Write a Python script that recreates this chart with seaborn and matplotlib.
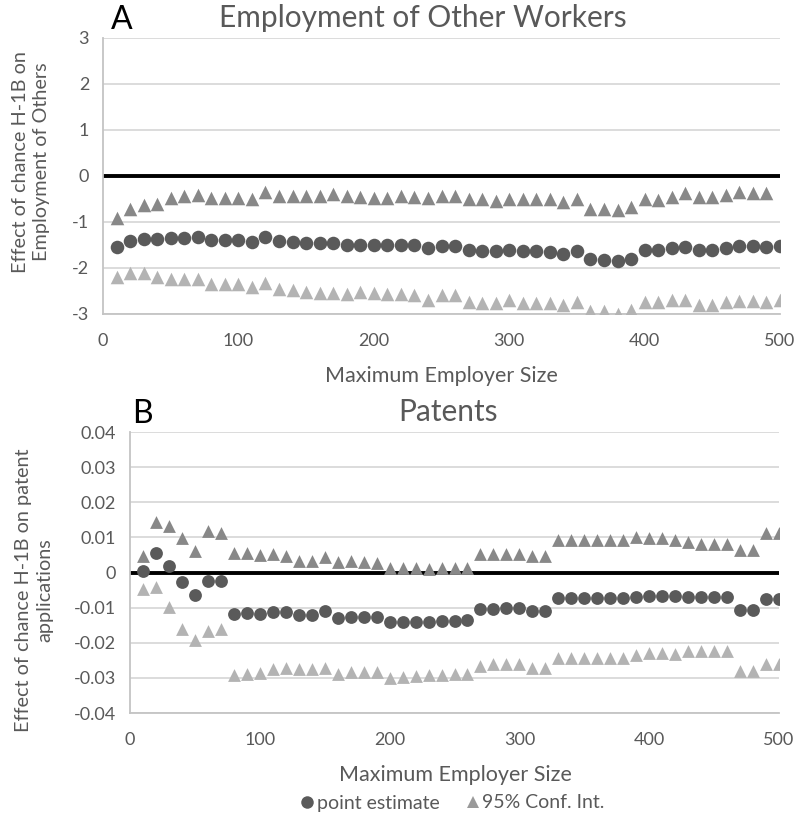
import numpy as np
import pandas as pd
import matplotlib
matplotlib.use("Agg")
import matplotlib.pyplot as plt
from matplotlib.lines import Line2D
import seaborn as sns

# Maximum employer size thresholds
sizes = list(range(10, 510, 10))

# Panel A: effect of a chance H-1B on employment of other workers
emp_estimate = [-1.55, -1.42, -1.38, -1.38, -1.35, -1.34, -1.33, -1.39, -1.39, -1.40,
                -1.44, -1.33, -1.42, -1.44, -1.45, -1.46, -1.46, -1.49, -1.49, -1.51,
                -1.51, -1.50, -1.51, -1.56, -1.53, -1.52, -1.60, -1.62, -1.64, -1.60,
                -1.62, -1.64, -1.65, -1.69, -1.62, -1.80, -1.82, -1.85, -1.80, -1.61,
                -1.61, -1.56, -1.54, -1.61, -1.61, -1.56, -1.53, -1.52, -1.54, -1.53]
emp_upper = [-0.91, -0.71, -0.64, -0.61, -0.48, -0.43, -0.41, -0.48, -0.47, -0.47,
             -0.49, -0.34, -0.44, -0.44, -0.44, -0.43, -0.40, -0.44, -0.46, -0.47,
             -0.47, -0.44, -0.45, -0.47, -0.44, -0.44, -0.50, -0.51, -0.55, -0.50,
             -0.50, -0.50, -0.50, -0.56, -0.51, -0.72, -0.72, -0.74, -0.68, -0.51,
             -0.52, -0.45, -0.38, -0.45, -0.45, -0.41, -0.34, -0.36, -0.38, np.nan]
emp_lower = [-2.19, -2.11, -2.11, -2.19, -2.23, -2.23, -2.23, -2.34, -2.34, -2.35,
             -2.41, -2.32, -2.46, -2.48, -2.52, -2.54, -2.54, -2.57, -2.52, -2.55,
             -2.57, -2.57, -2.59, -2.69, -2.59, -2.59, -2.74, -2.76, -2.76, -2.70,
             -2.76, -2.77, -2.77, -2.80, -2.74, -2.93, -2.93, -2.99, -2.91, -2.74,
             -2.74, -2.70, -2.70, -2.81, -2.81, -2.74, -2.72, -2.72, -2.74, -2.69]

# Panel B: effect of a chance H-1B on patent applications
pat_estimate = [0.0003, 0.0055, 0.0019, -0.0028, -0.0064, -0.0025, -0.0025, -0.0117, -0.0115, -0.0117,
                -0.0113, -0.0113, -0.0122, -0.0122, -0.0110, -0.0129, -0.0127, -0.0127, -0.0127, -0.0141,
                -0.0141, -0.0141, -0.0141, -0.0139, -0.0138, -0.0136, -0.0103, -0.0103, -0.0101, -0.0101,
                -0.0110, -0.0110, -0.0073, -0.0073, -0.0073, -0.0073, -0.0073, -0.0073, -0.0069, -0.0068,
                -0.0068, -0.0068, -0.0069, -0.0070, -0.0070, -0.0070, -0.0106, -0.0106, -0.0075, -0.0075]
pat_upper = [0.0047, 0.0144, 0.0131, 0.0099, 0.0061, 0.0117, 0.0113, 0.0056, 0.0056, 0.0050,
             0.0054, 0.0047, 0.0033, 0.0033, 0.0044, 0.0030, 0.0033, 0.0031, 0.0028, 0.0014,
             0.0012, 0.0012, 0.0009, 0.0012, 0.0012, 0.0014, 0.0054, 0.0054, 0.0054, 0.0054,
             0.0046, 0.0046, 0.0092, 0.0092, 0.0092, 0.0092, 0.0092, 0.0092, 0.0100, 0.0097,
             0.0097, 0.0092, 0.0088, 0.0082, 0.0082, 0.0082, 0.0063, 0.0063, 0.0113, 0.0113]
pat_lower = [-0.0047, -0.0040, -0.0097, -0.0161, -0.0192, -0.0167, -0.0161, -0.0292, -0.0289, -0.0286,
             -0.0276, -0.0273, -0.0276, -0.0276, -0.0271, -0.0289, -0.0283, -0.0283, -0.0283, -0.0299,
             -0.0298, -0.0295, -0.0293, -0.0292, -0.0289, -0.0289, -0.0267, -0.0261, -0.0261, -0.0261,
             -0.0273, -0.0271, -0.0242, -0.0242, -0.0242, -0.0242, -0.0242, -0.0242, -0.0235, -0.0229,
             -0.0229, -0.0233, -0.0224, -0.0224, -0.0224, -0.0224, -0.0280, -0.0280, -0.0261, -0.0261]

x_ticks = [0, 100, 200, 300, 400, 500]
emp_ticks = [3, 2, 1, 0, -1, -2, -3]
pat_ticks = [0.04, 0.03, 0.02, 0.01, 0, -0.01, -0.02, -0.03, -0.04]
pat_tick_labels = ["0.04", "0.03", "0.02", "0.01", "0", "-0.01", "-0.02", "-0.03", "-0.04"]

sns.set_theme(style="white")
plt.rcParams["font.family"] = ["Lato", "DejaVu Sans"]

TEXT = "#595959"
C_EST = "#5a5a5a"
C_HI = "#888888"
C_LO = "#b3b3b3"
GRID = "#d9d9d9"
AXIS = "#c4c4c4"

W, H = 798, 817
fig = plt.figure(figsize=(W / 100, H / 100), dpi=100)
fig.patch.set_facecolor("white")


def px_axes(left, top, right, bottom):
    return fig.add_axes([left / W, 1 - bottom / H, (right - left) / W, (bottom - top) / H])


def style_axes(ax, yticks, ylabels, ylim):
    ax.set_xlim(0, 500)
    ax.set_ylim(*ylim)
    ax.set_xticks(x_ticks)
    ax.set_xticklabels([str(t) for t in x_ticks])
    ax.set_yticks(yticks)
    ax.set_yticklabels(ylabels)
    ax.tick_params(axis="both", length=0, labelsize=13, colors=TEXT)
    ax.tick_params(axis="x", pad=14)
    ax.tick_params(axis="y", pad=10)
    for t in yticks:
        if t != 0:
            ax.axhline(t, color=GRID, lw=1.3, zorder=0)
    ax.axhline(0, color="black", lw=2.8, zorder=1)
    for side in ["top", "right"]:
        ax.spines[side].set_visible(False)
    for side in ["left", "bottom"]:
        ax.spines[side].set_color(AXIS)
        ax.spines[side].set_linewidth(1.3)
    ax.set_xlabel("")
    ax.set_ylabel("")


def draw_series(ax, est, hi, lo, size):
    df = pd.DataFrame({"size": sizes, "est": est, "hi": hi, "lo": lo})
    sns.scatterplot(data=df, x="size", y="est", ax=ax, marker="o", s=size,
                    color=C_EST, linewidth=0, zorder=3)
    sns.scatterplot(data=df, x="size", y="hi", ax=ax, marker="^", s=size,
                    color=C_HI, linewidth=0, zorder=3)
    sns.scatterplot(data=df, x="size", y="lo", ax=ax, marker="^", s=size,
                    color=C_LO, linewidth=0, zorder=3)


# Panel A
axA = px_axes(103, 38, 780, 314)
draw_series(axA, emp_estimate, emp_upper, emp_lower, 95)
style_axes(axA, emp_ticks, [str(t) for t in emp_ticks], (-3, 3))

# Panel B
axB = px_axes(130, 432, 779, 713)
draw_series(axB, pat_estimate, pat_upper, pat_lower, 85)
style_axes(axB, pat_ticks, pat_tick_labels, (-0.04, 0.04))


def ftext(x, y, s, **kw):
    fig.text(x / W, 1 - y / H, s, **kw)


# Panel letters and titles
ftext(122, 20, "A", fontsize=23, color="black", ha="center", va="center")
ftext(423, 18, "Employment of Other Workers", fontsize=21.5, color=TEXT, ha="center", va="center")
ftext(142, 414, "B", fontsize=23, color="black", ha="center", va="center")
ftext(448, 412, "Patents", fontsize=21.5, color=TEXT, ha="center", va="center")

# Axis titles
ftext(441, 376, "Maximum Employer Size", fontsize=15.5, color=TEXT, ha="center", va="center")
ftext(455, 775, "Maximum Employer Size", fontsize=15.5, color=TEXT, ha="center", va="center")
ftext(31, 162, "Effect of chance H-1B on\nEmployment of Others", fontsize=14.3, color=TEXT,
      ha="center", va="center", rotation=90, linespacing=1.3, multialignment="center")
ftext(34, 590, "Effect of chance H-1B on patent\napplications", fontsize=14.3, color=TEXT,
      ha="center", va="center", rotation=90, linespacing=1.3, multialignment="center")

# Legend
handles = [
    Line2D([], [], marker="o", linestyle="none", markersize=9, markerfacecolor=C_EST,
           markeredgewidth=0, label="point estimate"),
    Line2D([], [], marker="^", linestyle="none", markersize=9, markerfacecolor="#9a9a9a",
           markeredgewidth=0, label="95% Conf. Int."),
]
fig.legend(handles=handles, loc="center", bbox_to_anchor=(453 / W, 1 - 803 / H), ncol=2,
           frameon=False, fontsize=14, labelcolor=TEXT, handletextpad=0.2,
           columnspacing=1.4, handlelength=0.6)

fig.savefig("out.png", dpi=100, facecolor="white")
